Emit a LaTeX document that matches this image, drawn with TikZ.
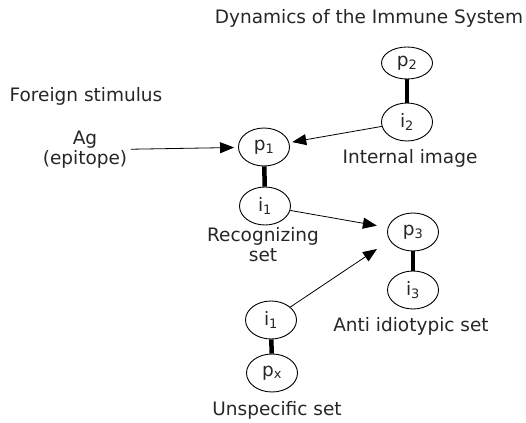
\documentclass[tikz,border=0pt]{standalone}
\usepackage{fontspec}
\setmainfont{DejaVu Sans}
\usetikzlibrary{shapes.geometric,arrows.meta}

\begin{document}
\begin{tikzpicture}[x=1pt,y=-1pt,color=black,
	every node/.style={font=\fontsize{18.5}{20}\selectfont,text=black!85},
	cell/.style={draw,ellipse,line width=0.9pt,inner sep=0pt,minimum width=51pt,minimum height=38pt},
	link/.style={line width=4.5pt},
	arr/.style={line width=0.8pt,-{Triangle[length=14pt,width=11pt]}}]
\useasboundingbox (0,0) rectangle (526,422);
\node (title) at (369,18) {Dynamics of the Immune System};
\node (foreign) at (86,96) {Foreign stimulus};
\node[align=center] (ag) at (85,150) {Ag\\(epitope)};
% the four pairs
\node[cell] (p1) at (264,147) {p\textsubscript{1}};
\node[cell] (i1) at (265,206) {i\textsubscript{1}};
\node[cell,minimum height=32pt] (p2) at (407,63) {p\textsubscript{2}};
\node[cell] (i2) at (407,122) {i\textsubscript{2}};
\node[cell] (p3) at (413,232) {p\textsubscript{3}};
\node[cell] (i3) at (413,290) {i\textsubscript{3}};
\node[cell] (ix) at (271,320) {i\textsubscript{1}};
\node[cell] (px) at (272,373) {p\textsubscript{x}};
\node (internal) at (410,158) {Internal image};
\node[align=center] (recog) at (263,245) {Recognizing\\set};
\node (anti) at (411,326) {Anti idiotypic set};
\node (unspec) at (277,410) {Unspecific set};
\coordinate (aim) at (377,249);
\foreach \a/\b in {p1/i1,p2/i2,p3/i3,ix/px}
	\draw[link] (\a) -- (\b);
\draw[arr,shorten >=4pt] (ag) -- (p1);
\draw[arr,shorten >=3pt] (i2) -- (p1);
\draw[arr,shorten >=11pt] (i1) -- (p3);
\draw[arr] (ix) -- (aim);
\end{tikzpicture}
\end{document}
